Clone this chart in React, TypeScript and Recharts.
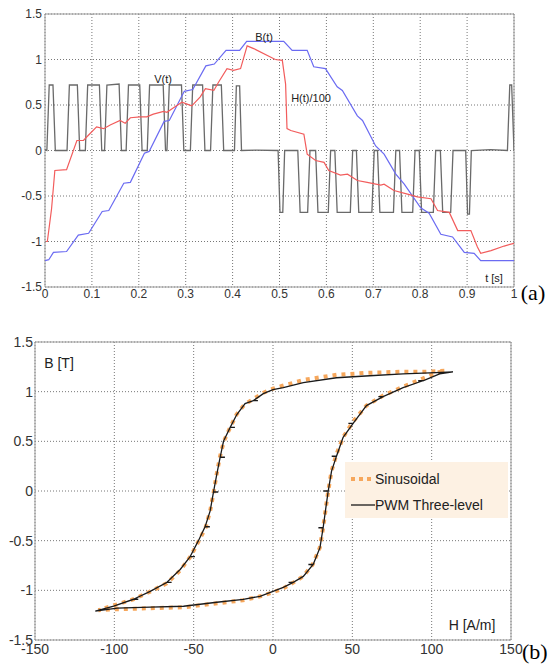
import React from 'react';
import { LineChart, Line, XAxis, YAxis, CartesianGrid, ReferenceArea } from 'recharts';

// ---------- (a) time signals ----------
const timeTicks = [0, 0.1, 0.2, 0.3, 0.4, 0.5, 0.6, 0.7, 0.8, 0.9, 1];
const signalTicks = [-1.5, -1, -0.5, 0, 0.5, 1, 1.5];

// V(t): [t, value]
const voltagePoints: number[][] = [
  [0, 0.01], [0.004, 0], [0.009, 0.72], [0.017, 0.72], [0.022, 0],
  [0.047, 0], [0.052, 0.72], [0.069, 0.72], [0.074, 0],
  [0.086, 0], [0.091, 0.72], [0.116, 0.72], [0.121, 0],
  [0.127, 0], [0.132, 0.72], [0.158, 0.73], [0.163, 0],
  [0.173, 0], [0.178, 0.72], [0.202, 0.72], [0.207, 0],
  [0.218, 0], [0.223, 0.72], [0.252, 0.72], [0.257, 0],
  [0.260, 0], [0.265, 0.72], [0.291, 0.72], [0.296, 0],
  [0.310, 0], [0.315, 0.72], [0.336, 0.72], [0.341, 0],
  [0.353, 0], [0.358, 0.72], [0.376, 0.72], [0.381, 0],
  [0.404, 0], [0.408, 0.71], [0.415, 0.71], [0.419, 0],
  [0.450, 0.005], [0.497, 0],
  [0.501, -0.68], [0.507, -0.68], [0.511, 0],
  [0.539, 0], [0.544, -0.68], [0.560, -0.68], [0.565, 0],
  [0.577, 0], [0.582, -0.68], [0.604, -0.68], [0.609, 0],
  [0.618, 0], [0.623, -0.68], [0.651, -0.68], [0.656, 0],
  [0.664, 0], [0.669, -0.68], [0.697, -0.68], [0.702, 0],
  [0.709, 0], [0.714, -0.68], [0.743, -0.68], [0.748, 0],
  [0.756, 0], [0.761, -0.68], [0.784, -0.68], [0.789, 0],
  [0.798, 0], [0.803, -0.68], [0.828, -0.68], [0.833, 0],
  [0.843, 0], [0.848, -0.68], [0.865, -0.68], [0.870, 0],
  [0.897, 0], [0.901, -0.7], [0.905, -0.7], [0.909, 0],
  [0.950, 0.01], [0.986, 0], [0.991, 0.72], [0.995, 0.72], [1.0, 0],
];

// B(t)
const fluxPoints: number[][] = [
  [0, -1.21], [0.008, -1.2], [0.018, -1.12], [0.046, -1.11], [0.071, -0.93], [0.093, -0.91],
  [0.122, -0.67], [0.136, -0.66], [0.168, -0.36], [0.182, -0.35], [0.212, -0.03], [0.222, -0.01],
  [0.254, 0.32], [0.265, 0.33], [0.297, 0.65], [0.315, 0.67], [0.343, 0.93], [0.361, 0.95],
  [0.386, 1.1], [0.415, 1.1], [0.430, 1.2], [0.509, 1.2], [0.527, 1.1], [0.559, 1.1],
  [0.573, 0.92], [0.598, 0.9], [0.623, 0.7], [0.634, 0.66], [0.666, 0.38], [0.677, 0.33],
  [0.705, 0.05], [0.723, -0.04], [0.748, -0.26], [0.766, -0.37], [0.801, -0.63], [0.819, -0.69],
  [0.844, -0.92], [0.869, -0.95], [0.894, -1.12], [0.915, -1.13], [0.929, -1.21], [1.0, -1.21],
];

// H(t)/100
const fieldPoints: number[][] = [
  [0.002, -1.0], [0.005, -1.0], [0.014, -0.64], [0.021, -0.22], [0.046, -0.21], [0.068, 0.11],
  [0.082, 0.11], [0.093, 0.17], [0.110, 0.26], [0.125, 0.24], [0.139, 0.28], [0.160, 0.33],
  [0.171, 0.30], [0.182, 0.36], [0.203, 0.37], [0.217, 0.37], [0.231, 0.40], [0.253, 0.43],
  [0.260, 0.42], [0.274, 0.47], [0.292, 0.53], [0.303, 0.51], [0.313, 0.49], [0.331, 0.59],
  [0.342, 0.68], [0.360, 0.66], [0.370, 0.75], [0.388, 0.90], [0.402, 0.88], [0.417, 0.90],
  [0.431, 1.15], [0.445, 1.12], [0.491, 1.0], [0.506, 0.99], [0.513, 0.73], [0.516, 0.24],
  [0.524, 0.22], [0.552, 0.18], [0.559, -0.04], [0.577, -0.11], [0.595, -0.13], [0.605, -0.22],
  [0.630, -0.27], [0.645, -0.26], [0.666, -0.33], [0.687, -0.35], [0.716, -0.38], [0.723, -0.37],
  [0.744, -0.44], [0.773, -0.48], [0.794, -0.51], [0.823, -0.53], [0.837, -0.66], [0.862, -0.68],
  [0.880, -0.88], [0.908, -0.88], [0.922, -1.06], [0.929, -1.13], [0.951, -1.10], [0.979, -1.05],
  [1.0, -1.02],
];

// ---------- (b) hysteresis loops ----------
const fieldTicks = [-150, -100, -50, 0, 50, 100, 150];
const inductionTicks = [-1.5, -1, -0.5, 0, 0.5, 1, 1.5];

// Sinusoidal excitation: [H, B]
const sinusoidalLoop: number[][] = [
  [108, 1.21], [95, 1.2], [80, 1.2], [60, 1.19], [40, 1.17], [20, 1.12], [6, 1.06], [0, 1.03],
  [-6, 0.99], [-12, 0.93], [-18, 0.87], [-23, 0.77], [-27, 0.64], [-31, 0.5], [-33.5, 0.34],
  [-35.5, 0.17], [-37.5, -0.02], [-39.6, -0.2], [-42.5, -0.37], [-47, -0.51], [-52, -0.66],
  [-58.5, -0.8], [-67, -0.93], [-77, -1.01], [-88, -1.09], [-100, -1.15], [-110, -1.2],
  [-98, -1.19], [-77, -1.18], [-56, -1.17], [-35, -1.13], [-19, -1.1], [-8, -1.06], [0, -1.02],
  [6.5, -0.98], [13, -0.92], [19, -0.86], [25, -0.74], [29.5, -0.57], [31.6, -0.37], [33.3, -0.17],
  [34.8, 0], [36.9, 0.2], [40, 0.37], [44.2, 0.54], [50.5, 0.7], [58.9, 0.86], [69.4, 0.96],
  [82, 1.05], [94, 1.13], [103, 1.19], [108, 1.21],
];

// PWM three-level excitation: [H, B]
const pwmLoop: number[][] = [
  [113.4, 1.2], [98.7, 1.19], [82, 1.18], [61, 1.16], [40, 1.14], [19.1, 1.09], [6.5, 1.04],
  [0, 1.02], [-6.1, 0.98], [-12.4, 0.91], [-9.5, 0.91], [-12.4, 0.91], [-17.6, 0.88], [-22.8, 0.77],
  [-27, 0.64], [-24, 0.64], [-27, 0.64], [-31.2, 0.5], [-33.3, 0.34], [-30.3, 0.34], [-33.3, 0.34],
  [-35.4, 0.17], [-37.5, -0.01], [-34.5, -0.01], [-37.5, -0.01], [-39.6, -0.2], [-42.8, -0.36],
  [-39.8, -0.36], [-42.8, -0.36], [-47, -0.5], [-52.2, -0.66], [-49.2, -0.66], [-52.2, -0.66],
  [-58.5, -0.79], [-66.9, -0.92], [-63.9, -0.92], [-66.9, -0.92], [-77.4, -1.01], [-87.9, -1.09],
  [-84.9, -1.09], [-87.9, -1.09], [-100.4, -1.16], [-112, -1.21],
  [-98.3, -1.18], [-77.4, -1.17], [-56.4, -1.16], [-35.4, -1.12], [-18.7, -1.09], [-8.2, -1.06],
  [0, -1.01], [6.5, -0.97], [12.8, -0.92], [9.8, -0.92], [12.8, -0.92], [19.1, -0.86],
  [25.3, -0.74], [22.3, -0.74], [25.3, -0.74], [29.6, -0.57], [31.6, -0.37], [28.6, -0.37],
  [31.6, -0.37], [33.3, -0.17], [34.8, 0], [31.8, 0], [34.8, 0], [36.9, 0.2], [40, 0.35],
  [37, 0.35], [40, 0.35], [44.2, 0.54], [50.5, 0.68], [47.5, 0.68], [50.5, 0.68], [58.9, 0.86],
  [69.4, 0.95], [66.4, 0.95], [69.4, 0.95], [82, 1.04], [94.5, 1.11], [91.5, 1.11], [94.5, 1.11],
  [105, 1.18], [113.4, 1.2],
];

const toXY = (pts: number[][]) => pts.map(([x, y]) => ({ x, y }));

const tickFont = { fontFamily: '"Liberation Sans", Arial, sans-serif', fill: '#333' };

const Txt = ({ x, y, size, children, serif }: any) => (
  <div
    style={{
      position: 'absolute',
      left: x,
      top: y,
      transform: 'translate(-50%, -50%)',
      fontSize: size,
      lineHeight: 1,
      whiteSpace: 'nowrap',
      color: serif ? '#000' : '#222',
      fontFamily: serif ? '"Liberation Serif", "Times New Roman", serif' : '"Liberation Sans", Arial, sans-serif',
    }}
  >
    {children}
  </div>
);

export default function App() {
  return (
    <div
      style={{
        position: 'absolute',
        left: 0,
        top: 0,
        width: 549,
        height: 664,
        overflow: 'hidden',
        background: '#fff',
      }}
    >
      {/* Chart (a) */}
      <div style={{ position: 'absolute', left: 0, top: 0 }}>
        <LineChart width={549} height={310} margin={{ top: 14, right: 35, bottom: 0, left: 0 }}>
          <CartesianGrid strokeDasharray="1 2" stroke="#777" />
          <XAxis
            dataKey="x"
            type="number"
            domain={[0, 1]}
            ticks={timeTicks}
            interval={0}
            tickLine={false}
            axisLine={false}
            tickSize={0}
            tickMargin={2}
            height={23}
            tick={{ ...tickFont, fontSize: 12 }}
            allowDataOverflow
          />
          <YAxis
            type="number"
            domain={[-1.5, 1.5]}
            ticks={signalTicks}
            interval={0}
            tickLine={false}
            axisLine={false}
            tickSize={0}
            tickMargin={3}
            width={45}
            tick={{ ...tickFont, fontSize: 12 }}
            allowDataOverflow
          />
          <ReferenceArea x1={0} x2={1} y1={-1.5} y2={1.5} fillOpacity={0} stroke="#999" strokeWidth={1} />
          <Line data={toXY(voltagePoints)} dataKey="y" name="V(t)" stroke="#6a6a6a" strokeWidth={1.3} dot={false} activeDot={false} isAnimationActive={false} />
          <Line data={toXY(fluxPoints)} dataKey="y" name="B(t)" stroke="#6b6bf2" strokeWidth={1.2} dot={false} activeDot={false} isAnimationActive={false} />
          <Line data={toXY(fieldPoints)} dataKey="y" name="H(t)/100" stroke="#f25c5c" strokeWidth={1.2} dot={false} activeDot={false} isAnimationActive={false} />
        </LineChart>
      </div>
      <Txt x={163} y={79} size={11}>V(t)</Txt>
      <Txt x={264} y={37} size={11}>B(t)</Txt>
      <Txt x={311} y={98} size={11}>H(t)/100</Txt>
      <Txt x={494} y={278} size={11}>t [s]</Txt>
      <Txt x={533} y={293} size={22} serif>(a)</Txt>

      {/* Chart (b) */}
      <div style={{ position: 'absolute', left: 0, top: 320 }}>
        <LineChart width={549} height={340} margin={{ top: 22, right: 38, bottom: 0, left: 0 }}>
          <CartesianGrid strokeDasharray="1 2" stroke="#777" />
          <XAxis
            dataKey="x"
            type="number"
            domain={[-150, 150]}
            ticks={fieldTicks}
            interval={0}
            tickLine={false}
            axisLine={false}
            tickSize={0}
            tickMargin={4}
            height={20}
            tick={{ ...tickFont, fontSize: 14 }}
            allowDataOverflow
          />
          <YAxis
            type="number"
            domain={[-1.5, 1.5]}
            ticks={inductionTicks}
            interval={0}
            tickLine={false}
            axisLine={false}
            tickSize={0}
            tickMargin={2}
            width={35}
            tick={{ ...tickFont, fontSize: 14 }}
            allowDataOverflow
          />
          <ReferenceArea x1={-150} x2={150} y1={-1.5} y2={1.5} fillOpacity={0} stroke="#999" strokeWidth={1} />
          <Line data={toXY(sinusoidalLoop)} dataKey="y" name="Sinusoidal" stroke="#f6a75c" strokeWidth={4} strokeDasharray="4 5" dot={false} activeDot={false} isAnimationActive={false} />
          <Line data={toXY(pwmLoop)} dataKey="y" name="PWM Three-level" stroke="#1a1a1a" strokeWidth={1.3} dot={false} activeDot={false} isAnimationActive={false} />
        </LineChart>
      </div>
      <Txt x={59} y={363} size={14}>B [T]</Txt>
      <Txt x={472} y={625} size={14}>H [A/m]</Txt>
      <div
        style={{
          position: 'absolute',
          left: 345,
          top: 462,
          width: 163,
          height: 56,
          background: '#fdf1e3',
          fontFamily: '"Liberation Sans", Arial, sans-serif',
          fontSize: 14,
          color: '#222',
        }}
      >
        <div style={{ position: 'absolute', left: 4, top: 9, display: 'flex', alignItems: 'center' }}>
          <svg width={26} height={10}>
            <line x1={2} y1={5} x2={24} y2={5} stroke="#f6a75c" strokeWidth={4} strokeDasharray="4 4" />
          </svg>
          <span>Sinusoidal</span>
        </div>
        <div style={{ position: 'absolute', left: 4, top: 35, display: 'flex', alignItems: 'center' }}>
          <svg width={26} height={10}>
            <line x1={2} y1={5} x2={26} y2={5} stroke="#1a1a1a" strokeWidth={1.3} />
          </svg>
          <span>PWM Three-level</span>
        </div>
      </div>
      <div
        style={{
          position: 'absolute',
          left: 522,
          top: 641,
          fontSize: 22,
          lineHeight: 1,
          fontFamily: '"Liberation Serif", "Times New Roman", serif',
          whiteSpace: 'nowrap',
        }}
      >
        (b)
      </div>
    </div>
  );
}
